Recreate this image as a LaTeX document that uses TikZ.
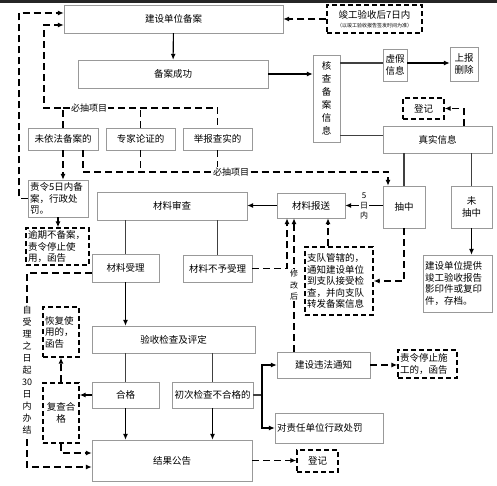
\documentclass[tikz,border=0pt]{standalone}
\usepackage{fontspec}
\usetikzlibrary{arrows.meta}
\newfontfamily\cjk{Noto Sans CJK SC}

\begin{document}
\begin{tikzpicture}[
    x=1pt, y=-1pt,
    box/.style={draw=black!40, fill=white, align=center, inner sep=2pt, font=\cjk\fontsize{9.5}{11.5}\selectfont},
    dbox/.style={box, draw=black, line width=1.4pt, dash pattern=on 5pt off 3pt},
    lbl/.style={fill=white, inner sep=1pt, align=center, font=\cjk\fontsize{8}{10}\selectfont},
    arr/.style={-{Latex[length=6pt, width=5pt]}, draw=black, line width=1.1pt},
    ln/.style={draw=black!75, line width=1.1pt},
    dln/.style={draw=black, line width=1.8pt, dash pattern=on 7pt off 4pt},
    darr/.style={dln, -{Latex[length=6pt, width=5pt]}}
]
    \useasboundingbox (0,0) rectangle (497,486);
    \fill[white] (0,0) rectangle (497,486);
    \fill[black!85] (0,0) rectangle (497,3);

    \node[box, minimum width=219, minimum height=28] (beian) at (173.5,19) {建设单位备案};
    \node[dbox, minimum width=95, minimum height=28, inner sep=1pt] (jungong) at (374.5,19) {竣工验收后7日内\\[-2pt]{\fontsize{5}{6}\selectfont （以竣工验收报告签发时间为准）}};
    \node[box, minimum width=190, minimum height=28] (chenggong) at (173,74) {备案成功};
    \node[box, minimum width=27, minimum height=87, font=\cjk\fontsize{9.5}{13}\selectfont] (hecha) at (326.5,98.5) {核\\查\\备\\案\\信\\息};
    \node[box, minimum width=24, minimum height=32] (xujia) at (395,65) {虚假\\信息};
    \node[box, minimum width=28, minimum height=34] (shangbao) at (464,64) {上报\\删除};
    \node[dbox, minimum width=41, minimum height=21] (dengjiA) at (423.5,108.5) {登记};
    \node[box, minimum width=109, minimum height=27] (zhenshi) at (437.5,139.5) {真实信息};

    \node[box, minimum width=70, minimum height=22] (weiyifa) at (63,139) {未依法备案的};
    \node[box, minimum width=69, minimum height=22] (zhuanjia) at (140.5,139) {专家论证的};
    \node[box, minimum width=69, minimum height=22] (jubao) at (217.5,139) {举报查实的};

    \node[box, text width=56, align=left, minimum height=37] (zeling) at (58,198.5) {责令5日内备\\案，行政处\\罚。};
    \node[dbox, text width=59, align=left, minimum height=37] (yuqi) at (57.5,246.5) {逾期不备案，\\责令停止使\\用，函告};
    \node[box, minimum width=150, minimum height=28] (shencha) at (172,206) {材料审查};
    \node[box, minimum width=68, minimum height=25] (baosong) at (311,205.5) {材料报送};
    \node[box, minimum width=42, minimum height=42] (chouzhong) at (404,207) {抽中};
    \node[box, minimum width=41, minimum height=42] (weichou) at (471.5,207) {未\\抽中};
    \node[box, text width=65, align=left, minimum height=57] (tigong) at (457.5,283.5) {建设单位提供\\竣工验收报告\\影印件或复印\\件，存档。};
    \node[dbox, text width=64, align=left, minimum height=68] (zhidui) at (339,281) {支队管辖的，\\通知建设单位\\到支队接受检\\查，并向支队\\转发备案信息};

    \node[box, minimum width=67, minimum height=28] (shouli) at (125.5,268) {材料受理};
    \node[box, minimum width=69, minimum height=27] (buyu) at (217.5,268.5) {材料不予受理};
    \node[box, minimum width=163, minimum height=27] (yanshou) at (173.5,339.5) {验收检查及评定};
    \node[dbox, text width=32, align=left, minimum height=50] (huifu) at (61,332) {恢复使\\用的，\\函告};
    \node[dbox, minimum width=36, minimum height=60] (fucha) at (61,413) {复查合\\格};
    \node[box, minimum width=67, minimum height=26] (hege) at (125.5,395) {合格};
    \node[box, minimum width=81, minimum height=26] (chuci) at (212.5,395) {初次检查不合格的};
    \node[box, minimum width=93, minimum height=26] (weifa) at (323.5,365) {建设违法通知};
    \node[dbox, text width=55, align=left, minimum height=28] (tinggong) at (427.5,364) {责令停止施\\工的，函告};
    \node[box, text width=104, align=left, minimum height=30] (chufa) at (329,428) {对责任单位行政处罚};
    \node[box, minimum width=160, minimum height=41] (gonggao) at (172,460.5) {结果公告};
    \node[dbox, minimum width=41, minimum height=22] (dengjiB) at (317.5,461) {登记};

    \coordinate (outer) at (19,198.5);
    \coordinate (inner) at (44,108);
    \coordinate (lower) at (83,172);
    \coordinate (lc1) at (27,273);
    \coordinate (lc2) at (27,467);
    \coordinate (jn) at (262,395);

    \draw[arr] (beian) -- (chenggong);
    \draw[darr] (jungong) -- (beian);
    \draw[arr] (chenggong.east) -- (chenggong.east -| hecha.west);
    \draw[ln] ([yshift=2]hecha.east |- xujia.west) -- ([yshift=2]xujia.west);
    \draw[arr] ([yshift=2]xujia.east) -- ([yshift=2]xujia.east -| shangbao.west);
    \draw[ln] ([yshift=4]hecha.east |- zhenshi.west) -- ([yshift=4]zhenshi.west);
    \draw[darr] ([xshift=26.5]zhenshi.north) |- (dengjiA.east);
    \draw[ln] (chouzhong.north |- zhenshi.south) -- (chouzhong.north);
    \draw[ln] (weichou.north |- zhenshi.south) -- (weichou.north);
    \draw[arr] (weichou.south) -- (weichou.south |- tigong.north);
    \draw[arr] (chouzhong.west |- baosong.east) -- node[lbl] {5\\日\\内} (baosong.east);
    \draw[arr] (baosong.west) -- (baosong.west -| shencha.east);

    \draw[darr] (weiyifa.north) |- (inner) |- ([yshift=-6]beian.west);
    \draw[dln] (weiyifa.north |- inner) -- (jubao.north |- inner) -- (jubao.north);
    \draw[dln] (zhuanjia.north) -- (zhuanjia.north |- inner);
    \node[lbl, font=\cjk\fontsize{9}{10}\selectfont] (bichouA) at (89,108) {必抽项目};
    \draw[darr] (zeling.west) -- (outer) |- ([yshift=6]beian.west);
    \draw[darr] (weiyifa.south) -- (weiyifa.south |- zeling.north);
    \draw[arr] (zeling.south) -- (zeling.south |- yuqi.north);

    \draw[dln] ([xshift=20]weiyifa.south) -- (lower) -- (lower -| jubao.south);
    \draw[dln] (zhuanjia.south) -- (zhuanjia.south |- lower);
    \draw[dln] (jubao.south) -- (jubao.south |- lower);
    \draw[darr] (lower -| jubao.south) -| ([xshift=-16]chouzhong.north);
    \node[lbl, font=\cjk\fontsize{9}{10}\selectfont] (bichouB) at (231,172) {必抽项目};

    \draw[ln] (shencha.south -| shouli.north) -- (shouli.north);
    \draw[ln] (buyu.north |- shencha.south) -- (buyu.north);
    \draw[arr] (shouli.south) -- (shouli.south |- yanshou.north);
    \draw[darr] (buyu.east) -| ([xshift=-24]baosong.south);
    \draw[darr] ([xshift=-29.5]weifa.north) -- node[lbl, font=\cjk\fontsize{8}{11.5}\selectfont] {修\\改\\后} ([xshift=-17]baosong.south);
    \draw[darr] ([xshift=-11]zhidui.north) -- ([xshift=17]baosong.south);
    \draw[darr] (chouzhong.south) |- (zhidui.east);

    \draw[darr] ([yshift=-5]shouli.west) -- (lc1) -- node[lbl, font=\cjk\fontsize{9}{12}\selectfont] {自\\受\\理\\之\\日\\起\\30\\日\\内\\办\\结} (lc2) -- (lc2 -| gonggao.west);

    \draw[ln] (hege.north |- yanshou.south) -- (hege.north);
    \draw[ln] (chuci.north |- yanshou.south) -- (chuci.north);
    \draw[arr] (hege.south) -- (hege.south |- gonggao.north);
    \draw[arr] (chuci.south) -- (chuci.south |- gonggao.north);
    \draw[arr] (hege.west) -- (hege.west -| fucha.east);
    \draw[darr] (fucha.north) -- (huifu.south);
    \draw[darr] (fucha.south) |- ([yshift=7.5]gonggao.west);

    \draw[ln] (chuci.east) -- (jn);
    \draw[arr] (jn) |- (weifa.west);
    \draw[arr] (jn) |- (chufa.west);
    \draw[darr] (weifa.east) -- (weifa.east -| tinggong.west);
    \draw[darr] (gonggao.east) -- (gonggao.east -| dengjiB.west);
\end{tikzpicture}
\end{document}
